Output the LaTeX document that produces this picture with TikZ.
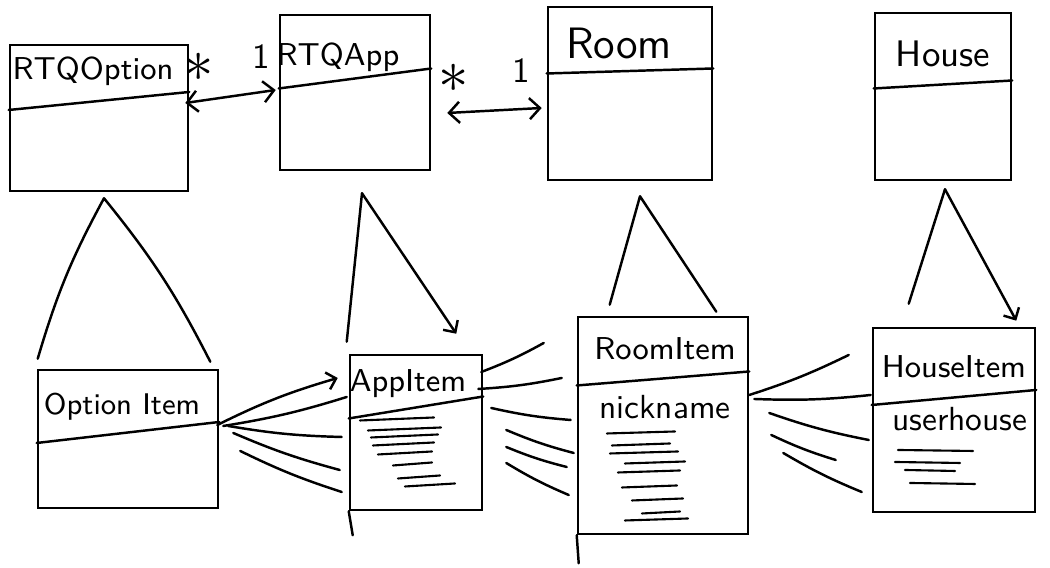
\documentclass[tikz,border=0pt]{standalone}
\usetikzlibrary{arrows.meta,positioning,calc}
\tikzset{
    % --- Sketched class box ---
    classbox/.style = {
        rectangle, draw, line width=0.7pt, inner sep=0pt
    },
    % --- Class name (small hand) ---
    classname/.style = {
        font=\sffamily\fontsize{9}{11}\selectfont, inner sep=1pt
    },
    % --- Class name (large hand) ---
    bigname/.style = {
        font=\sffamily\fontsize{12.5}{14}\selectfont, inner sep=1pt
    },
    % --- Attribute text ---
    attr/.style = {
        font=\sffamily\fontsize{9.5}{11}\selectfont, inner sep=1pt
    },
    % --- Multiplicity mark ---
    mult/.style = {
        font=\sffamily\fontsize{10}{12}\selectfont, inner sep=1pt
    },
    % --- Many mark ---
    many/.style = {
        font=\fontsize{16}{16}\selectfont, inner sep=1pt
    },
    % --- Pen stroke ---
    sketch/.style = {
        line width=0.7pt, line cap=round, line join=round
    },
    % --- Association (both ends open barbs) ---
    assoc/.style = {
        sketch, {Straight Barb[length=3pt,width=6pt]}-{Straight Barb[length=3pt,width=6pt]}
    },
    % --- Single barb at the end ---
    barb/.style = {
        sketch, -{Straight Barb[length=2.5pt,width=5pt]}
    },
    % --- Scribbled attribute lines ---
    scribble/.style = {
        line width=0.6pt, line cap=round
    }
}

\begin{document}
\begin{tikzpicture}[x=0.01cm, y=-0.01cm]
\useasboundingbox (0,0) rectangle (1050,568);

% ---------------------------------------------------------
% Top row: classes
% ---------------------------------------------------------
\node[classbox, minimum width=1.78cm, minimum height=1.46cm] (opt) at (99,118) {};
\node[classbox, minimum width=1.50cm, minimum height=1.55cm] (app) at (355,92.5) {};
\node[classbox, minimum width=1.64cm, minimum height=1.73cm] (room) at (630,93.5) {};
\node[classbox, minimum width=1.36cm, minimum height=1.67cm] (house) at (943,96.5) {};

% dividers
\draw[sketch] ($(opt.west)+(0,-8)$) -- ($(opt.east)+(0,-26)$);
\draw[sketch] ($(app.west)+(0,-4)$) -- ($(app.east)+(0,-24)$);
\draw[sketch] ($(room.west)+(0,-20)$) -- ($(room.east)+(0,-25)$);
\draw[sketch] ($(house.west)+(0,-8)$) -- ($(house.east)+(0,-16)$);

% names
\node[classname] (optName) at ($(opt.north)+(-6,28)$) {RTQOption};
\node[classname] (appName) at ($(app.north)+(-17,44)$) {RTQApp};
\node[bigname] (roomName) at ($(room.north)+(-11,38)$) {Room};
\node[bigname, font=\sffamily\fontsize{10.5}{12}\selectfont] (houseName) at ($(house.north)+(0,42)$) {House};

% ---------------------------------------------------------
% Bottom row: items
% ---------------------------------------------------------
\node[classbox, minimum width=1.80cm, minimum height=1.38cm] (optItem) at (128,439) {};
\node[classbox, minimum width=1.32cm, minimum height=1.55cm] (appItem) at (416,432.5) {};
\node[classbox, minimum width=1.70cm, minimum height=2.17cm] (roomItem) at (663,425.5) {};
\node[classbox, minimum width=1.62cm, minimum height=1.84cm] (houseItem) at (954,420) {};

% pen overshoots below the items
\draw[sketch] (appItem.south west) -- ++(4,24);
\draw[sketch] (roomItem.south west) -- ++(2,28);

% dividers
\draw[sketch] ($(optItem.west)+(0,4)$) -- ($(optItem.east)+(0,-17)$);
\draw[sketch] ($(appItem.west)+(0,-14)$) -- ($(appItem.east)+(0,-36)$);
\draw[sketch] ($(roomItem.west)+(0,-40)$) -- ($(roomItem.east)+(0,-54)$);
\draw[sketch] ($(houseItem.west)+(0,-15)$) -- ($(houseItem.east)+(0,-30)$);

% names and attributes
\node[classname, font=\sffamily\fontsize{8.5}{10}\selectfont] (optItemName) at ($(optItem.north)+(-6,38)$) {Option Item};
\node[classname] (appItemName) at ($(appItem.north)+(-8,30)$) {AppItem};
\node[classname] (roomItemName) at ($(roomItem.north)+(2,33)$) {RoomItem};
\node[classname] (houseItemName) at ($(houseItem.north)+(0,40)$) {HouseItem};
\node[attr] (roomNick) at ($(roomItem.north)+(2,91)$) {nickname};
\node[attr] (houseUser) at ($(houseItem.north)+(6,92)$) {userhouse};

% scribbled attribute lines
\foreach \y/\xa/\xb in {-12/-56/18, -2/-48/25, 5/-45/22, 13/-43/18,
                        22/-38/16, 33/-23/16, 46/-18/24, 54/-11/39}
    \draw[scribble] ($(appItem.center)+(\xa,\y)$) -- ($(appItem.center)+(\xb,\y-3)$);
\foreach \y/\xa/\xb in {8/-56/12, 20/-51/7, 28/-53/15, 38/-38/22, 47/-45/17,
                        62/-41/14, 75/-31/20, 88/-21/17, 95/-38/25}
    \draw[scribble] ($(roomItem.center)+(\xa,\y)$) -- ($(roomItem.center)+(\xb,\y-2)$);
\foreach \y/\xa/\xb in {30/-56/19, 42/-59/6, 50/-49/1, 63/-44/21}
    \draw[scribble] ($(houseItem.center)+(\xa,\y)$) -- ($(houseItem.center)+(\xb,\y+1)$);

% ---------------------------------------------------------
% Associations between classes
% ---------------------------------------------------------
\draw[assoc] ($(opt.east)+(-4,-15)$) -- ($(app.west)+(-3,-2.5)$);
\node[many] (optStar) at ($(opt.north east)+(9,24)$) {$\ast$};
\node[mult] (appOne) at ($(app.north west)+(-17,43)$) {1};

\draw[assoc] ($(app.east)+(16,20.5)$) -- ($(room.west)+(-5,14.5)$);
\node[many] (appStar) at ($(app.north east)+(22,65)$) {$\ast$};
\node[mult] (roomOne) at ($(room.north west)+(-25,65)$) {1};

% ---------------------------------------------------------
% Inheritance (class above, item below)
% ---------------------------------------------------------
\coordinate (optTip) at ($(opt.south)+(5,6)$);
\coordinate (appTip) at ($(app.south)+(7,22)$);
\coordinate (roomTip) at ($(room.south)+(10,15)$);
\coordinate (houseTip) at ($(house.south)+(2,8)$);

\draw[sketch] ($(optItem.north west)+(1,-10)$) to[bend left=6] (optTip)
    to[bend left=6] ($(optItem.north east)+(-9,-7)$);
\draw[sketch] ($(appItem.north west)+(-2,-12)$) -- (appTip);
\draw[barb] (appTip) -- ($(appItem.north east)+(-27,-20)$);
\draw[sketch] ($(roomItem.north west)+(33,-11)$) -- (roomTip)
    -- ($(roomItem.north east)+(-33,-4)$);
\draw[sketch] ($(houseItem.north west)+(37,-23)$) -- (houseTip);
\draw[barb] (houseTip) -- ($(houseItem.north east)+(-20,-6)$);

% ---------------------------------------------------------
% Item links (fans of strokes)
% ---------------------------------------------------------
\draw[barb] ($(optItem.east)+(-2,-14)$) to[bend left=5] ($(appItem.west)+(-11,-54.5)$);
\foreach \sx/\sy/\ex/\ey in {4/-13/-2/-35.5, 9/-13/-7/4.5, 14/-6/-9/37.5, 21/12/-7/59.5}
    \draw[sketch] ($(optItem.east)+(\sx,\sy)$) to[bend right=4] ($(appItem.west)+(\ex,\ey)$);

\foreach \sx/\sy/\ex/\ey in {-2/-60.5/-33/-82.5, -5/-43.5/-15/-47.5, 8/-24.5/-6/-5.5,
                             23/-2.5/-3/27.5, 23/14.5/-10/41.5, 23/30.5/-8/69.5}
    \draw[sketch] ($(appItem.east)+(\sx,\sy)$) to[bend right=4] ($(roomItem.west)+(\ex,\ey)$);

\foreach \sx/\sy/\ex/\ey in {0/-30.5/-23/-65, 5/-26.5/-1/-25, 20/-12.5/-3/20,
                             22/9.5/-36/40, 34/27.5/-10/72}
    \draw[sketch] ($(roomItem.east)+(\sx,\sy)$) to[bend right=4] ($(houseItem.west)+(\ex,\ey)$);

\end{tikzpicture}
\end{document}
